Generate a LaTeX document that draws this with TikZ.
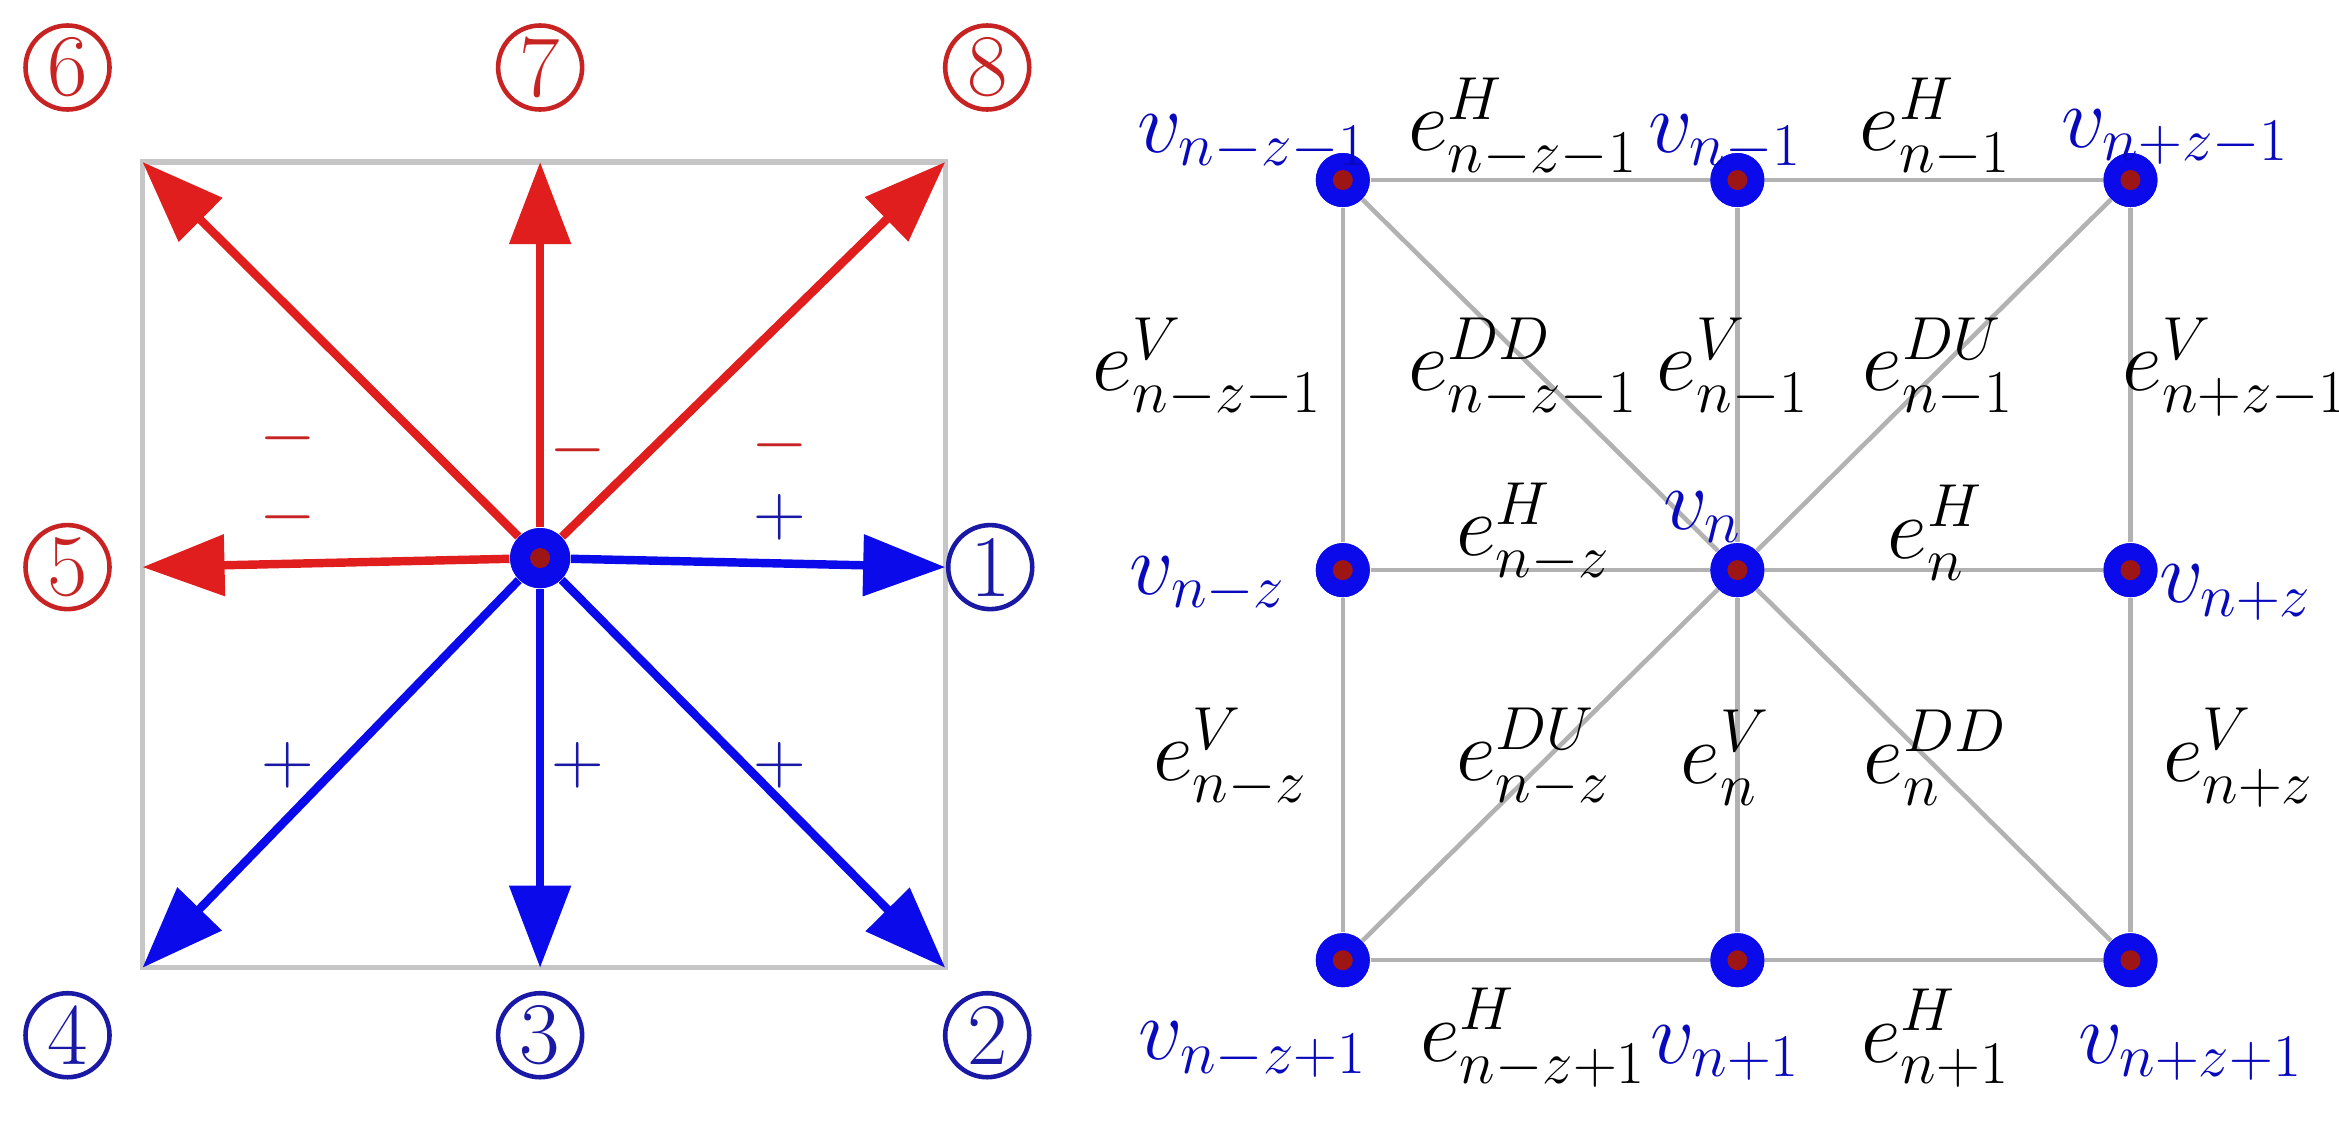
\documentclass[tikz,border=0pt]{standalone}
\usetikzlibrary{arrows.meta}
\definecolor{myred}{RGB}{225,30,30}
\definecolor{myblue}{RGB}{10,10,235}
\definecolor{labred}{RGB}{200,35,35}
\definecolor{labblue}{RGB}{25,25,165}
\tikzstyle{dirnum} = [draw, circle, line width=1.3pt, minimum size=0.84cm, inner sep=0pt, font=\fontsize{25}{30}\selectfont]
\tikzstyle{redarrow} = [myred, line width=2.4pt, -{Triangle[length=0.82cm,width=0.6cm]}]
\tikzstyle{bluearrow} = [myblue, line width=2.4pt, -{Triangle[length=0.82cm,width=0.6cm]}]
\tikzstyle{vertex} = [circle, fill=myblue, minimum size=0.54cm, inner sep=0pt,
    path picture={\fill[myred!70!black] (path picture bounding box.center) circle (0.1cm);}]
\tikzstyle{edge} = [gray!60, line width=1.3pt]
\tikzstyle{vlab} = [text=myblue!80!black, font=\fontsize{26}{30}\selectfont]
\tikzstyle{elab} = [font=\fontsize{26}{30}\selectfont]
\tikzstyle{sign} = [font=\fontsize{22}{26}\selectfont]

\begin{document}
\begin{tikzpicture}[x=0.015cm,y=-0.015cm]
\useasboundingbox (0,0) rectangle (1559,752);
% left panel
\draw[gray!45, line width=1.5pt] (95,108) rectangle (630,645);
\coordinate (t6) at (95,108);  \coordinate (t7) at (360,108);
\coordinate (t8) at (630,108); \coordinate (t5) at (95,378);
\coordinate (t1) at (630,378); \coordinate (t2) at (630,645);
\coordinate (t3) at (360,645); \coordinate (t4) at (95,645);
\node[vertex, minimum size=0.6cm] (c) at (360,372) {};
\foreach \t in {t5,t6,t7,t8} \draw[redarrow] (c) -- (\t);
\foreach \t in {t1,t2,t3,t4} \draw[bluearrow] (c) -- (\t);
\node[vertex, minimum size=0.6cm] at (360,372) {};
\node[dirnum, labred] (n6) at (45,45) {6};
\node[dirnum, labred] (n7) at (360,45) {7};
\node[dirnum, labred] (n8) at (658,45) {8};
\node[dirnum, labred] (n5) at (45,378) {5};
\node[dirnum, labblue] (n1) at (660,378) {1};
\node[dirnum, labblue] (n4) at (45,690) {4};
\node[dirnum, labblue] (n3) at (360,690) {3};
\node[dirnum, labblue] (n2) at (658,690) {2};
\node[sign, labred] (s6) at (192,292) {$-$};
\node[sign, labred] (s7) at (385,300) {$-$};
\node[sign, labred] (s8) at (520,297) {$-$};
\node[sign, labred] (s5) at (192,345) {$-$};
\node[sign, labblue] (s1) at (520,345) {$+$};
\node[sign, labblue] (s2) at (520,510) {$+$};
\node[sign, labblue] (s3) at (385,510) {$+$};
\node[sign, labblue] (s4) at (192,510) {$+$};
% right panel
\node[vertex] (a1) at (895,120) {};
\node[vertex] (a2) at (1158,120) {};
\node[vertex] (a3) at (1420,120) {};
\node[vertex] (b1) at (895,380) {};
\node[vertex] (b2) at (1158,380) {};
\node[vertex] (b3) at (1420,380) {};
\node[vertex] (d1) at (895,640) {};
\node[vertex] (d2) at (1158,640) {};
\node[vertex] (d3) at (1420,640) {};
\draw[edge] (a1) -- (a2) -- (a3) -- (b3) -- (d3) -- (d2) -- (d1) -- (b1) -- (a1);
\draw[edge] (a2) -- (b2) -- (d2) (b1) -- (b2) -- (b3);
\draw[edge] (a1) -- (b2) -- (d3) (a3) -- (b2) -- (d1);
\foreach \v in {a1,a2,a3,b1,b2,b3,d1,d2,d3} \node[vertex] at (\v) {};
\node[vlab] (la1) at (835,95) {$v_{n-z-1}$};
\node[vlab] (la2) at (1150,95) {$v_{n-1}$};
\node[vlab] (la3) at (1450,92) {$v_{n+z-1}$};
\node[vlab] (lb2) at (1135,345) {$v_{n}$};
\node[vlab] (lb1) at (805,390) {$v_{n-z}$};
\node[vlab] (lb3) at (1490,395) {$v_{n+z}$};
\node[vlab] (ld1) at (835,700) {$v_{n-z+1}$};
\node[vlab] (ld2) at (1150,702) {$v_{n+1}$};
\node[vlab] (ld3) at (1460,702) {$v_{n+z+1}$};
\node[elab] at (1015,85) {$e^{H}_{n-z-1}$};
\node[elab] at (1290,85) {$e^{H}_{n-1}$};
\node[elab] at (805,245) {$e^{V}_{n-z-1}$};
\node[elab] at (1015,245) {$e^{DD}_{n-z-1}$};
\node[elab] at (1155,245) {$e^{V}_{n-1}$};
\node[elab] at (1292,245) {$e^{DU}_{n-1}$};
\node[elab] at (1490,245) {$e^{V}_{n+z-1}$};
\node[elab] at (1022,355) {$e^{H}_{n-z}$};
\node[elab] at (1290,355) {$e^{H}_{n}$};
\node[elab] at (820,505) {$e^{V}_{n-z}$};
\node[elab] at (1022,505) {$e^{DU}_{n-z}$};
\node[elab] at (1150,505) {$e^{V}_{n}$};
\node[elab] at (1290,505) {$e^{DD}_{n}$};
\node[elab] at (1492,505) {$e^{V}_{n+z}$};
\node[elab] at (1022,692) {$e^{H}_{n-z+1}$};
\node[elab] at (1290,692) {$e^{H}_{n+1}$};
\end{tikzpicture}
\end{document}
